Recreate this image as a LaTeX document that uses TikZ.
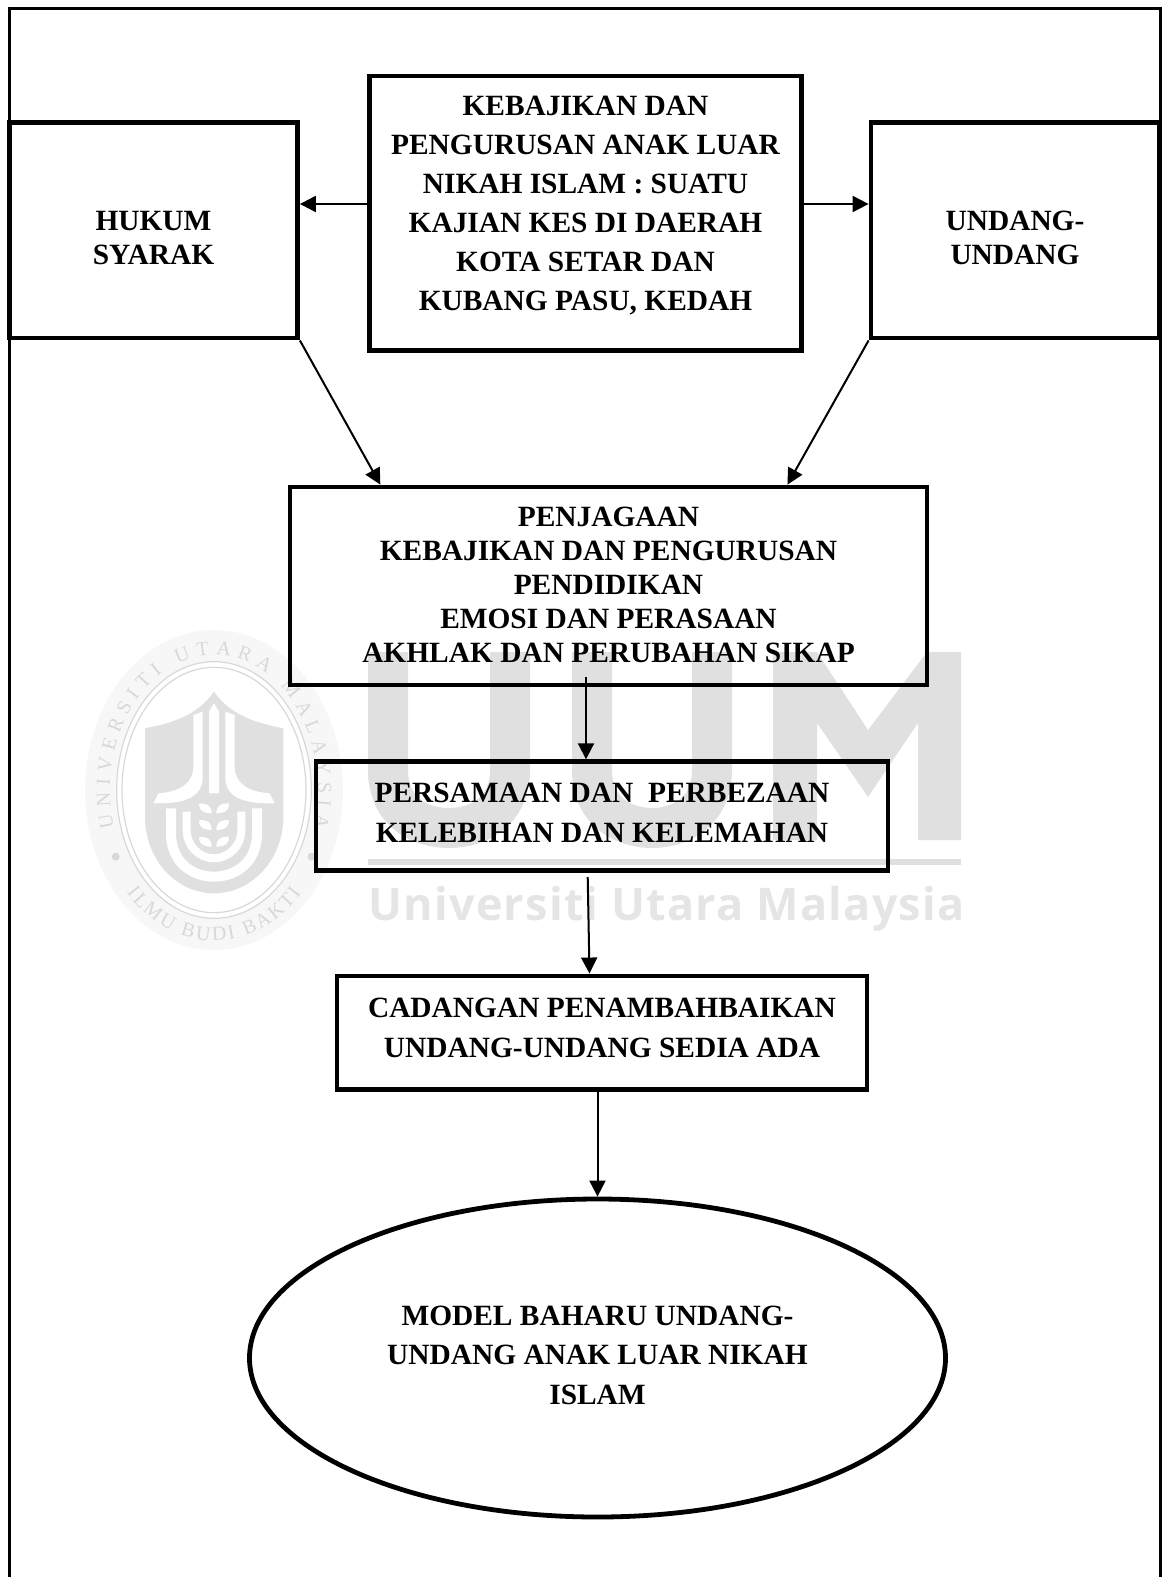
\documentclass[tikz,border=0pt]{standalone}
\usepackage{fontspec}
\usetikzlibrary{arrows.meta,shapes.geometric,decorations.text,calc}
\setmainfont{Liberation Serif}
\newfontfamily\wmfont[LetterSpace=2.7]{Open Sans}
\newcommand\liftt[2]{\raisebox{#1}[\height][\depth]{\begin{tabular}{@{}c@{}}#2\end{tabular}}}
\definecolor{wm}{HTML}{E0E0E0}
\definecolor{wmb}{HTML}{F7F7F7}
\definecolor{wmt}{HTML}{D8D8D8}
\tikzset{
  boxnode/.style={draw=black,line width=2.4pt,rectangle,inner sep=0pt,font=\bfseries\fontsize{14.7}{#1}\selectfont},
  ellnode/.style={draw=black,line width=2.4pt,ellipse,inner sep=0pt,font=\bfseries\fontsize{14.7}{#1}\selectfont},
  arr/.style={draw=black,line width=1pt,-{Triangle[length=8pt,width=8pt]}},
  frameline/.style={draw=black,line width=1.5pt},
}
\begin{document}
\begin{tikzpicture}[x=0.5pt,y=-0.5pt]
\useasboundingbox (0,0) rectangle (1161,1577);
% watermark: seal
\begin{scope}[shift={(70,620)},scale=1/3]
  \fill[wmb] (432,510) ellipse[x radius=387,y radius=480];
  \fill[white] (432,510) ellipse[x radius=292,y radius=385];
  \draw[wmt,line width=.6pt] (432,510) ellipse[x radius=292,y radius=385];
  \draw[wmt,line width=.6pt] (432,510) ellipse[x radius=276,y radius=368];
  \path[decorate,decoration={text along path,text align={fit to path},
     text={|\fontsize{10}{11}\selectfont\color{wmt}|UNIVERSITI UTARA MALAYSIA}}]
     (432,510) ++(164:312 and 405) arc[start angle=164,end angle=376,x radius=312,y radius=405];
  \path[decorate,decoration={text along path,text align={fit to path},
     text={|\fontsize{10}{11}\selectfont\color{wmt}|ILMU BUDI BAKTI}}]
     (432,510) ++(137:358 and 452) arc[start angle=137,end angle=43,x radius=358,y radius=452];
  \fill[wmt] (137,710) circle[radius=12];
  \fill[wmt] (725,710) circle[radius=12];
  % shield
  \fill[wm] (432,215) .. controls (380,290) and (300,310) .. (225,325) -- (225,590)
     .. controls (225,720) and (320,820) .. (432,820)
     .. controls (544,820) and (640,720) .. (640,590) -- (640,325)
     .. controls (565,310) and (485,290) .. (432,215) -- cycle;
  \fill[white] (432,250) -- (447,275) -- (447,520) -- (417,520) -- (417,275) -- cycle;
  \fill[white] (370,285) -- (398,275) -- (398,470) .. controls (398,530) and (350,552) .. (250,550)
     -- (265,520) .. controls (330,515) and (370,490) .. (370,440) -- cycle;
  \fill[white] (494,285) -- (466,275) -- (466,470) .. controls (466,530) and (514,552) .. (614,550)
     -- (599,520) .. controls (534,515) and (494,490) .. (494,440) -- cycle;
  \draw[white,line width=5pt] (303,565) -- (303,640) .. controls (303,730) and (370,770) .. (432,770)
     .. controls (494,770) and (561,730) .. (561,640) -- (561,565);
  \draw[white,line width=4pt] (350,575) -- (350,630) .. controls (350,680) and (390,715) .. (432,715)
     .. controls (474,715) and (514,680) .. (514,630) -- (514,575);
  \foreach \yy in {550,600,650}{
    \fill[white] (425,\yy+30) .. controls (390,\yy+30) and (385,\yy+10) .. (388,\yy) .. controls (420,\yy) and (425,\yy+15) .. (425,\yy+30) -- cycle;
    \fill[white] (439,\yy+30) .. controls (474,\yy+30) and (479,\yy+10) .. (476,\yy) .. controls (444,\yy) and (439,\yy+15) .. (439,\yy+30) -- cycle;
  }
\end{scope}
% watermark: UUM
\draw[wm,line width=20pt] (388,652) -- (388,770) .. controls (388,812) and (420,828) .. (449,828)
   .. controls (478,828) and (510,812) .. (510,770) -- (510,652);
\draw[wm,line width=20pt] (592,652) -- (592,770) .. controls (592,812) and (624,828) .. (652,828)
   .. controls (680,828) and (712,812) .. (712,770) -- (712,652);
\fill[wm] (773,652) -- (817,652) -- (868,730) -- (927,652) -- (961,652) -- (961,840) -- (918,840)
   -- (918,723) -- (868,797) -- (817,723) -- (817,840) -- (773,840) -- cycle;
\fill[wm] (368,859) rectangle (961,865);
\node[anchor=base west,inner sep=0pt,text=wm!85!white,font=\wmfont\bfseries\fontsize{22.5}{24}\selectfont] (wmtext) at (368,920) {Universiti Utara Malaysia};
% frame
\draw[frameline] (9.5,1577) -- (9.5,9) -- (1160,9) -- (1160,1577);
% boxes
\node[boxnode=19.5pt,minimum width=432.5*.5pt,minimum height=274.7*.5pt] (main) at (585.5,213.3)
  {\liftt{4pt}{KEBAJIKAN DAN\\PENGURUSAN ANAK LUAR\\NIKAH ISLAM : SUATU\\KAJIAN KES DI DAERAH\\KOTA SETAR DAN\\KUBANG PASU, KEDAH}};
\node[boxnode=17pt,minimum width=288*.5pt,minimum height=215.3*.5pt] (hukum) at (153.5,230.4)
  {\liftt{-5.3pt}{HUKUM\\SYARAK}};
\node[boxnode=17pt,minimum width=288*.5pt,minimum height=215.3*.5pt] (undang) at (1015,230.4)
  {\liftt{-5.3pt}{UNDANG-\\UNDANG}};
\node[boxnode=17pt,minimum width=637*.5pt,minimum height=198*.5pt] (penjagaan) at (608.5,586)
  {\liftt{-1pt}{PENJAGAAN\\KEBAJIKAN DAN PENGURUSAN\\PENDIDIKAN\\EMOSI DAN PERASAAN\\AKHLAK DAN PERUBAHAN SIKAP}};
\node[boxnode=20pt,minimum width=572*.5pt,minimum height=109*.5pt] (persamaan) at (602,816.2)
  {\liftt{1pt}{PERSAMAAN DAN\ \ PERBEZAAN\\KELEBIHAN DAN KELEMAHAN}};
\node[boxnode=20pt,minimum width=530*.5pt,minimum height=113.5*.5pt] (cadangan) at (602,1032.7)
  {\liftt{1.5pt}{CADANGAN PENAMBAHBAIKAN\\UNDANG-UNDANG SEDIA ADA}};
\node[ellnode=19.75pt,minimum width=696*.5pt,minimum height=318*.5pt] (model) at (597.5,1358)
  {\liftt{.5pt}{MODEL BAHARU UNDANG-\\UNDANG ANAK LUAR NIKAH\\ISLAM}};
% connectors
\coordinate (tipA) at ($(penjagaan.north west)!0.1445!(penjagaan.north east)$);
\coordinate (tipB) at ($(penjagaan.north west)!0.7788!(penjagaan.north east)$);
\draw[arr] (main.west |- 0,204) -- (hukum.east |- 0,204);
\draw[arr] (main.east |- 0,204) -- (undang.west |- 0,204);
\draw[arr] (hukum.south east) -- (tipA);
\draw[arr] (undang.south west) -- (tipB);
\draw[arr] (586,677) -- (persamaan.north -| 586,0);
\draw[arr] (587.7,877) -- (cadangan.north -| 589.5,0);
\draw[arr] (cadangan.south -| 597.5,0) -- (model.north);
\end{tikzpicture}
\end{document}
